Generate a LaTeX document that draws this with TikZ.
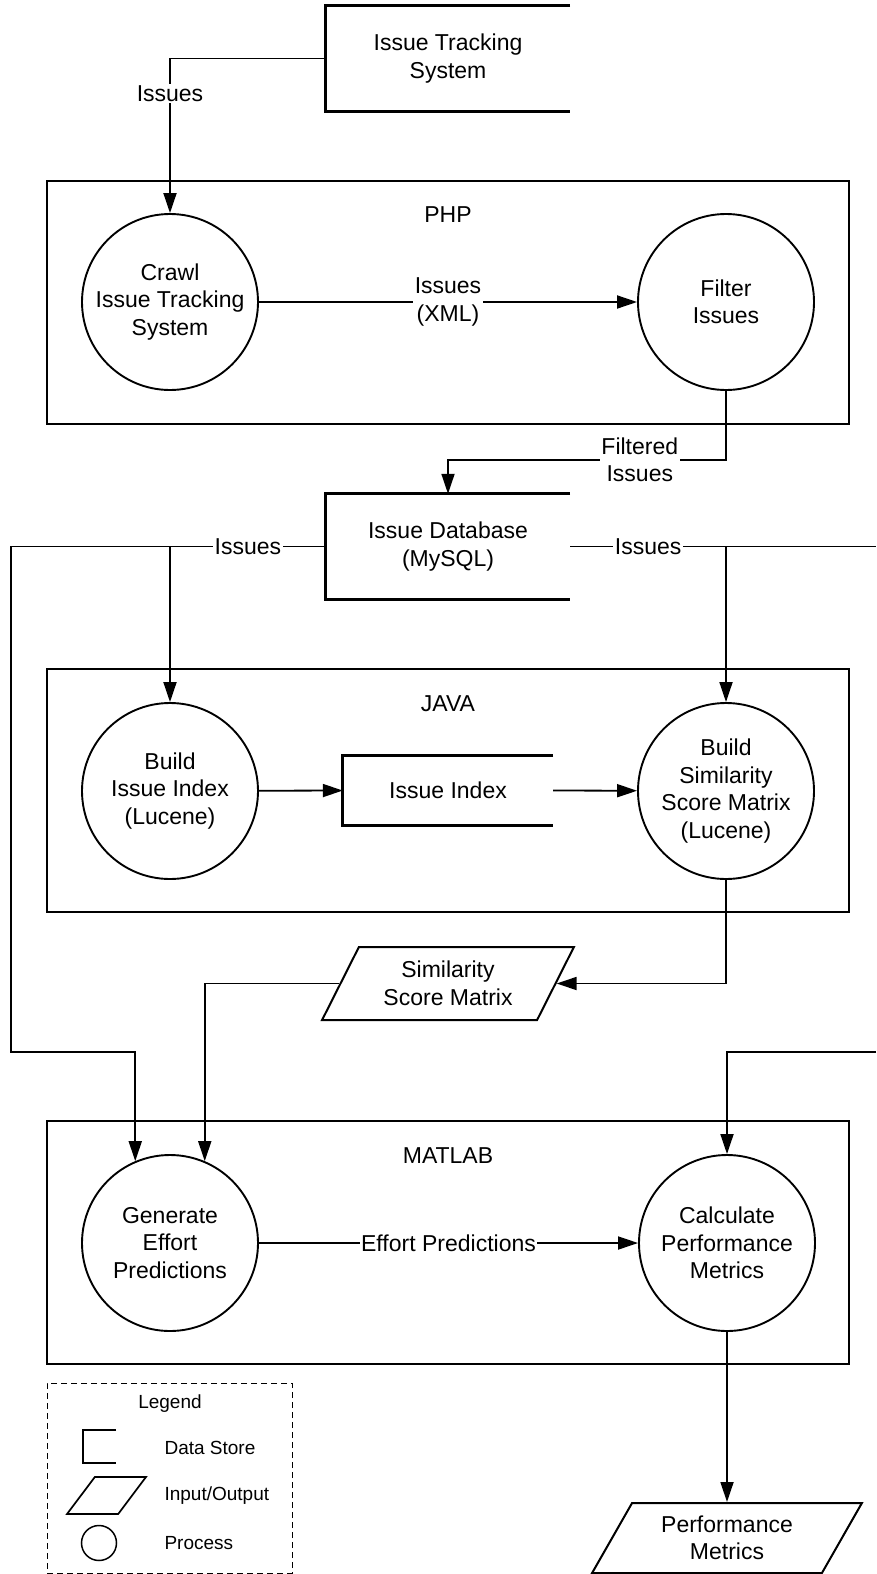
\documentclass[tikz,border=0pt]{standalone}
\usepackage{fontspec}
\setmainfont{Liberation Sans}
\usetikzlibrary{arrows.meta,shapes.geometric}

\begin{document}
\begin{tikzpicture}[x=1pt,y=-1pt,>={Triangle[length=20pt,width=13pt]},
 font=\fontsize{23}{27.5}\selectfont,
 lane/.style={draw,line width=1.2pt,minimum width=802pt,minimum height=243pt,inner sep=0pt},
 proc/.style={circle,draw,line width=1.9pt,fill=white,minimum size=176pt,inner sep=0pt,align=center},
 store/.style={minimum width=244pt,minimum height=105pt,inner sep=0pt,align=center},
 wall/.style={line width=2.7pt},
 io/.style={trapezium,trapezium left angle=59,trapezium right angle=121,trapezium stretches=true,
   draw,line width=2pt,minimum width=252pt,minimum height=73pt,inner sep=0pt,align=center},
 flow/.style={line width=1.8pt},
 lbl/.style={fill=white,inner sep=1.5pt,align=center},
 small/.style={font=\fontsize{19}{22}\selectfont}]
 \useasboundingbox (0,0) rectangle (876,1574);

 % swim lanes
 \node[lane] (php) at (448,302.5) {};
 \node[lane] (java) at (448,790.5) {};
 \node[lane] (matlab) at (448,1242.5) {};
 \node (phplbl) at (448,215) {PHP};
 \node (javalbl) at (448,704) {JAVA};
 \node (matlablbl) at (448,1156) {MATLAB};

 % data stores
 \node[store] (its) at (448,58.5) {Issue Tracking\\System};
 \node[store] (db) at (448,546.5) {Issue Database\\(MySQL)};
 \node[store,minimum width=210pt,minimum height=69pt] (idx) at (448,790.5) {Issue Index};
 \foreach \s in {its,db,idx}
  \draw[wall] (\s.north east) -- (\s.north west) -- (\s.south west) -- (\s.south east);

 % processes
 \node[proc] (crawl) at (170,302) {Crawl\\Issue Tracking\\System};
 \node[proc] (filt) at (726,302) {Filter\\Issues};
 \node[proc] (bii) at (170,791) {Build\\Issue Index\\(Lucene)};
 \node[proc] (bssm) at (726,791) {Build\\Similarity\\Score Matrix\\(Lucene)};
 \node[proc] (gen) at (170,1243) {Generate\\Effort\\Predictions};
 \node[proc] (calc) at (727,1243) {Calculate\\Performance\\Metrics};

 % input/output
 \node[io] (ssm) at (448,983.5) {Similarity\\Score Matrix};
 \node[io,minimum width=270pt,minimum height=70pt,trapezium left angle=58,trapezium right angle=122] (perf) at (727,1538) {Performance\\Metrics};

 % flows
 \draw[flow,->] (its.west) -| node[lbl,pos=0.614]{Issues} (crawl.north);
 \draw[flow,->] (crawl) -- node[lbl]{Issues\\(XML)} (filt);
 \draw[flow,->] (filt.south) -- ++(0,69) -| node[lbl,pos=0.155]{Filtered\\Issues} (db.north);

 \coordinate (lsplit) at (bii.north |- db.west);
 \coordinate (ledge) at (11,546.5);
 \coordinate (lturn) at (11,1052);
 \draw[flow] (db.west) -- node[lbl]{Issues} (lsplit);
 \draw[flow,->] (lsplit) -- (bii.north);
 \draw[flow,->] (lsplit) -- (ledge) -- (lturn) -| (gen.113);

 \coordinate (rsplit) at (bssm.north |- db.east);
 \coordinate (redge) at (876,546.5);
 \coordinate (rback) at (876,1052);
 \draw[flow] (db.east) -- node[lbl]{Issues} (rsplit) -- (redge);
 \draw[flow,->] (rsplit) -- (bssm.north);
 \draw[flow,->] (rback) -| (calc.north);

 \draw[flow,->] (bii) -- (idx.west);
 \draw[flow,->] (idx.east) -- (bssm);
 \draw[flow,->] (bssm.south) |- (ssm.east);
 \draw[flow,->] (ssm.west) -| (gen.67);
 \draw[flow,->] (gen) -- node[lbl]{Effort Predictions} (calc);
 \draw[flow,->] (calc.south) -- (perf.north);

 % legend
 \node[draw,line width=0.8pt,dash pattern=on 6pt off 4pt,minimum width=245pt,minimum height=190pt,inner sep=0pt] (legend) at (169.5,1478) {};
 \node[small] (legtitle) at (170,1404) {Legend};
 \node[minimum width=33pt,minimum height=33pt,inner sep=0pt] (legstore) at (99.5,1446.5) {};
 \draw[line width=1.8pt] (legstore.north east) -- (legstore.north west) -- (legstore.south west) -- (legstore.south east);
 \node[io,minimum width=79pt,minimum height=37pt,inner sep=1pt,trapezium left angle=40,trapezium right angle=140,line width=1.7pt] (legio) at (106.5,1495.5) {};
 \node[proc,minimum size=35pt,line width=1.5pt] (legproc) at (99,1543) {};
 \node[small,anchor=west] (legstoretxt) at (161,1448) {Data Store};
 \node[small,anchor=west] (legiotxt) at (161,1496) {Input/Output};
 \node[small,anchor=west] (legproctxt) at (161,1543) {Process};
\end{tikzpicture}
\end{document}
